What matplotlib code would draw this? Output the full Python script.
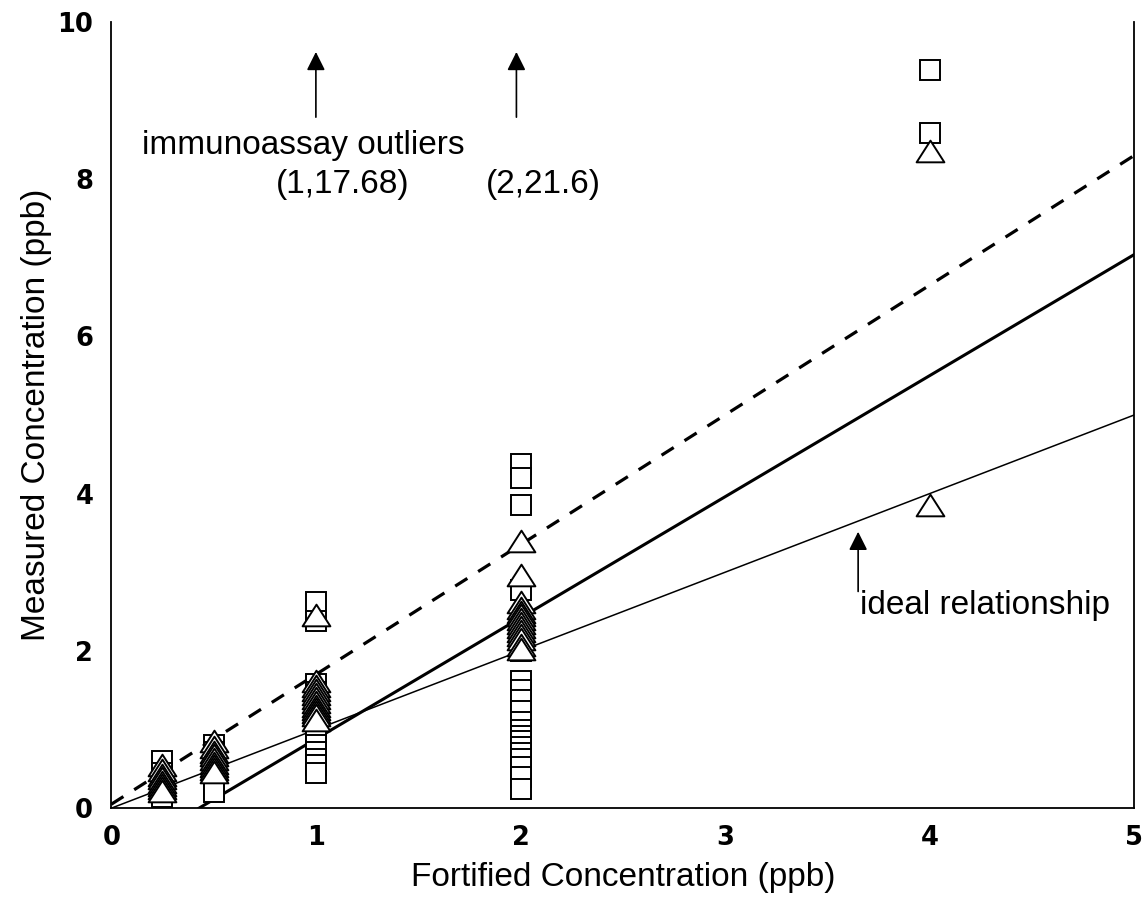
import numpy as np
import matplotlib.pyplot as plt
from matplotlib.path import Path

plt.rcParams['font.family'] = ['Liberation Sans', 'DejaVu Sans']

# 各加标浓度 (ppb)
levels = [0.25, 0.5, 1, 2, 4]

# 方框：免疫分析测定值 (ppb)
sq_025 = [0.60, 0.45, 0.35, 0.28, 0.22, 0.18, 0.14]
sq_05 = [0.80, 0.72, 0.65, 0.58, 0.50, 0.42, 0.35, 0.30, 0.24, 0.20]
sq_1 = [2.62, 2.38, 1.58, 1.48, 1.35, 1.22, 1.10, 0.98, 0.90, 0.80, 0.72, 0.62, 0.55, 0.45]
sq_2 = [4.38, 4.20, 3.85, 2.78, 2.00, 1.62, 1.50, 1.38, 1.24, 1.10, 1.00, 0.92, 0.85,
        0.78, 0.70, 0.62, 0.52, 0.40, 0.24]
sq_4 = [9.38, 8.58]

# 三角：对照方法测定值 (ppb)
tri_025 = [0.55, 0.48, 0.42, 0.38, 0.33, 0.30, 0.26, 0.22]
tri_05 = [0.85, 0.78, 0.72, 0.68, 0.62, 0.58, 0.54, 0.50, 0.46]
tri_1 = [2.45, 1.62, 1.55, 1.50, 1.45, 1.40, 1.35, 1.30, 1.26, 1.22, 1.18, 1.12]
tri_2 = [3.40, 2.96, 2.62, 2.55, 2.50, 2.45, 2.40, 2.35, 2.30, 2.25, 2.20, 2.15, 2.08, 2.02]
tri_4 = [8.35, 3.85]

# 回归线 (斜率, 截距)
ideal = (1.0, 0.0)
fit_solid = (1.54, -0.66)
fit_dashed = (1.65, 0.05)

squares = [sq_025, sq_05, sq_1, sq_2, sq_4]
triangles = [tri_025, tri_05, tri_1, tri_2, tri_4]

# 宽三角形标记
tri_marker = Path([(0, 0.78), (-1, -0.78), (1, -0.78), (0, 0.78)],
                  [Path.MOVETO, Path.LINETO, Path.LINETO, Path.CLOSEPOLY])

fig = plt.figure(figsize=(11.47, 9.01), dpi=100)
ax = fig.add_axes([0.097, 0.103, 0.892, 0.873])

xs = np.array([0, 5.0])
ax.plot(xs, ideal[0] * xs + ideal[1], color='black', lw=1.1, zorder=2)
x0 = -fit_solid[1] / fit_solid[0]
xs2 = np.array([x0, 5.0])
ax.plot(xs2, fit_solid[0] * xs2 + fit_solid[1], color='black', lw=2.2, zorder=2)
ax.plot(xs, fit_dashed[0] * xs + fit_dashed[1], color='black', lw=2.3,
        dashes=(4.5, 4), zorder=2)

for lv, vals in zip(levels, squares):
    ax.plot([lv] * len(vals), vals, ls='none', marker='s', ms=14, mfc='white',
            mec='black', mew=1.4, zorder=3)
for lv, vals in zip(levels, triangles):
    ax.plot([lv] * len(vals), vals, ls='none', marker=tri_marker, ms=20, mfc='white',
            mec='black', mew=1.4, zorder=4)

# 注释箭头
arrow = dict(arrowstyle='-|>', color='black', lw=1.2, mutation_scale=28)
ax.annotate('', xy=(1.0, 9.65), xytext=(1.0, 8.75), arrowprops=arrow)
ax.annotate('', xy=(1.98, 9.65), xytext=(1.98, 8.75), arrowprops=arrow)
ax.annotate('', xy=(3.65, 3.55), xytext=(3.65, 2.72), arrowprops=arrow)

ax.text(0.94, 8.42, 'immunoassay outliers', ha='center', va='center', fontsize=24)
ax.text(1.13, 7.93, '(1,17.68)', ha='center', va='center', fontsize=24)
ax.text(2.11, 7.93, '(2,21.6)', ha='center', va='center', fontsize=24)
ax.text(3.66, 2.58, 'ideal relationship', ha='left', va='center', fontsize=24)

ax.set_xlim(0, 5)
ax.set_ylim(0, 10)
ax.set_xticks([0, 1, 2, 3, 4, 5])
ax.set_yticks([0, 2, 4, 6, 8, 10])
ax.tick_params(length=0, labelsize=18.5)
ax.tick_params(axis='x', pad=12)
ax.tick_params(axis='y', pad=13)
for lab in ax.get_xticklabels() + ax.get_yticklabels():
    lab.set_fontweight('bold')
    lab.set_family(['DejaVu Sans'])
ax.spines['top'].set_visible(False)
for s in ['left', 'bottom', 'right']:
    ax.spines[s].set_linewidth(1.3)

ax.set_xlabel('Fortified Concentration (ppb)', fontsize=24, labelpad=8)
ax.set_ylabel('Measured Concentration (ppb)', fontsize=24, labelpad=4)

fig.savefig('out.png', dpi=100)
